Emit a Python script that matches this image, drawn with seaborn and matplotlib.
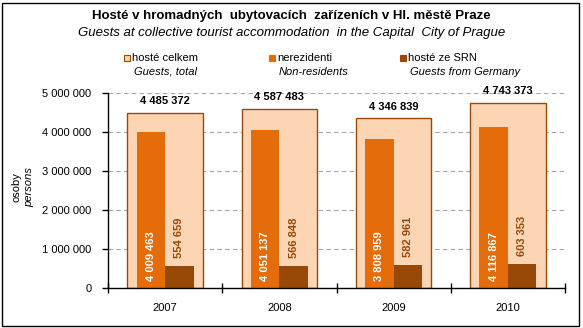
import matplotlib
matplotlib.use("Agg")
import matplotlib.pyplot as plt
import seaborn as sns
import pandas as pd
from matplotlib.ticker import FuncFormatter, FixedLocator
from matplotlib.patches import Rectangle

years = ["2007", "2008", "2009", "2010"]
total = [4485372, 4587483, 4346839, 4743373]
nonres = [4009463, 4051137, 3808959, 4116867]
germany = [554659, 566848, 582961, 603353]

c_total_fill = "#FCD5B5"
c_total_edge = "#984807"
c_nonres = "#E46C0A"
c_ger = "#984807"

sns.set_theme(style="white")
plt.rcParams["font.family"] = ["Liberation Sans", "DejaVu Sans"]

fig = plt.figure(figsize=(5.83, 3.28), dpi=100)
ax = fig.add_axes([108/583, 1-288/328, (565-108)/583, (288-93)/328])

df_tot = pd.DataFrame({"year": years, "value": total})
sns.barplot(data=df_tot, x="year", y="value", color=c_total_fill, width=0.66,
            edgecolor=c_total_edge, linewidth=1.0, saturation=1, ax=ax, zorder=2)

df_in = pd.DataFrame({
    "year": years * 2,
    "value": nonres + germany,
    "series": ["nerezidenti"] * 4 + ["hosté ze SRN"] * 4,
})
sns.barplot(data=df_in, x="year", y="value", hue="series",
            palette=[c_nonres, c_ger], width=0.5, dodge=True, saturation=1,
            linewidth=0, ax=ax, legend=False, zorder=3)

ax.set_ylim(0, 5000000)
ax.set_xlim(-0.5, 3.5)
ax.set_xlabel("")
ax.set_ylabel("")

fmt = FuncFormatter(lambda v, p: f"{int(v):,}".replace(",", " "))
ax.yaxis.set_major_formatter(fmt)
ax.set_yticks([0, 1000000, 2000000, 3000000, 4000000, 5000000])
ax.tick_params(axis="y", which="major", left=True, direction="out", length=4,
               width=1, color="black", labelsize=8, pad=8)
ax.tick_params(axis="x", which="major", bottom=False, length=0, labelsize=8, pad=11)
ax.xaxis.set_minor_locator(FixedLocator([-0.5, 0.5, 1.5, 2.5, 3.5]))
ax.tick_params(axis="x", which="minor", bottom=True, direction="inout",
               length=7, width=1, color="black")
for lab in ax.get_xticklabels() + ax.get_yticklabels():
    lab.set_color("black")

ax.yaxis.grid(True, linestyle=(0, (4, 3)), color="#A6A6A6", linewidth=0.8, zorder=0)
ax.set_axisbelow(True)
for s in ["top", "right"]:
    ax.spines[s].set_visible(False)
for s in ["left", "bottom"]:
    ax.spines[s].set_color("black")
    ax.spines[s].set_linewidth(1)
    ax.spines[s].set_zorder(5)

# data labels
for i, v in enumerate(total):
    ax.annotate(f"{v:,}".replace(",", " "), (i, v), xytext=(0, 5),
                textcoords="offset points", ha="center", va="bottom",
                fontsize=8, fontweight="bold", color="black", zorder=6)
for i, v in enumerate(nonres):
    ax.annotate(f"{v:,}".replace(",", " "), (i - 0.125, 0), xytext=(0, 5),
                textcoords="offset points", ha="center", va="bottom",
                rotation=90, fontsize=8, fontweight="bold", color="white", zorder=6)
for i, v in enumerate(germany):
    ax.annotate(f"{v:,}".replace(",", " "), (i + 0.125, v), xytext=(0, 6),
                textcoords="offset points", ha="center", va="bottom",
                rotation=90, fontsize=8, fontweight="bold", color=c_ger, zorder=6)

# titles
fig.text(0.5, 1 - 16/328, "Hosté v hromadných  ubytovacích  zařízeních v Hl. městě Praze",
         ha="center", va="center", fontsize=9.5, fontweight="bold", color="black")
fig.text(0.5, 1 - 33/328, "Guests at collective tourist accommodation  in the Capital  City of Prague",
         ha="center", va="center", fontsize=9.5, fontstyle="italic", color="black")

# legend
leg_items = [
    (127, "hosté celkem", "Guests, total", c_total_fill, c_total_edge),
    (272, "nerezidenti", "Non-residents", c_nonres, c_nonres),
    (403, "hosté ze SRN", "Guests from Germany", c_ger, c_ger),
]
for x, t1, t2, fc, ec in leg_items:
    fig.patches.append(Rectangle(((x - 3) / 583, 1 - 61/328), 6/583, 6/328,
                                 transform=fig.transFigure, facecolor=fc,
                                 edgecolor=ec, linewidth=0.8))
    fig.text((x + 5) / 583, 1 - 58/328, t1, ha="left", va="center",
             fontsize=8, color="black")
    fig.text((x + 7) / 583, 1 - 72/328, t2, ha="left", va="center",
             fontsize=8, fontstyle="italic", color="black")

# y-axis title
fig.text(17/583, 1 - 187/328, "osoby", rotation=90, ha="center", va="center",
         fontsize=8, color="black")
fig.text(29/583, 1 - 187/328, "persons", rotation=90, ha="center", va="center",
         fontsize=8, fontstyle="italic", color="black")

# outer border
fig.patches.append(Rectangle((2/583, 2/328), 577/583, 323/328,
                             transform=fig.transFigure, fill=False,
                             edgecolor="black", linewidth=1))

fig.savefig("out.png", dpi=100)
